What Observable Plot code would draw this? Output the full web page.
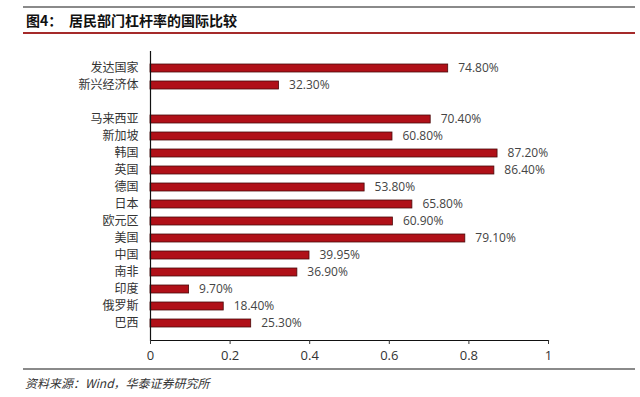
<!DOCTYPE html>
<html>
<head>
<meta charset="utf-8">
<script src="https://cdn.jsdelivr.net/npm/d3@7"></script>
<script src="https://cdn.jsdelivr.net/npm/@observablehq/plot@0.6"></script>
<style>
  html, body { margin: 0; padding: 0; background: #fff; }
  #wrap { position: relative; width: 640px; height: 397px; overflow: hidden; font-family: "Noto Sans CJK SC", "Noto Sans", sans-serif; }
  .hline { position: absolute; left: 23px; width: 612px; }
  .title { position: absolute; top: 11px; font-size: 14px; font-weight: bold; color: #111; white-space: pre; line-height: 18px; }
  #caption { position: absolute; left: 25px; top: 374px; font-size: 12px; font-style: italic; color: #333; line-height: 17px; white-space: pre; }
  #chart { position: absolute; left: 0; top: 0; }
</style>
</head>
<body>
<div id="wrap">
  <div class="hline" style="top:6px;height:2px;background:#8a8a8a"></div>
  <div class="title" style="left:26px">图4：</div>
  <div class="title" style="left:69px">居民部门杠杆率的国际比较</div>
  <div class="hline" style="top:32px;height:2px;background:#a52a2a"></div>
  <div id="chart"></div>
  <div class="hline" style="top:368px;height:2px;background:#8a8a8a"></div>
  <div id="caption">资料来源：Wind，华泰证券研究所</div>
</div>
<script>
const categories = ["发达国家", "新兴经济体", " ", "马来西亚", "新加坡", "韩国", "英国", "德国", "日本", "欧元区", "美国", "中国", "南非", "印度", "俄罗斯", "巴西"];
const values = [0.748, 0.323, null, 0.704, 0.608, 0.872, 0.864, 0.538, 0.658, 0.609, 0.791, 0.3995, 0.369, 0.097, 0.184, 0.253];
const xTicks = [0, 0.2, 0.4, 0.6, 0.8, 1];
const xTickLabels = ["0", "0.2", "0.4", "0.6", "0.8", "1"];

const data = categories.map((c, i) => ({name: c, value: values[i]})).filter(d => d.value != null);

const chart = Plot.plot({
  width: 640,
  height: 397,
  marginLeft: 150,
  marginRight: 92,
  marginTop: 51,
  marginBottom: 57,
  style: {fontFamily: "'Noto Sans CJK SC', 'Noto Sans', sans-serif", background: "transparent"},
  x: {domain: [0, 1]},
  y: {domain: categories, paddingInner: 0.55, paddingOuter: 0.4},
  marks: [
    Plot.barX(data, {x: "value", y: "name", fill: "#b01018", stroke: "#4a0a0a", strokeWidth: 0.8}),
    Plot.text(data, {x: "value", y: "name", text: d => (d.value * 100).toFixed(2) + "%", textAnchor: "start", dx: 10, fontSize: 12, fill: "#444", fontFamily: "'Open Sans', sans-serif"}),
    Plot.ruleX([0], {stroke: "#111", strokeWidth: 1.2}),
    Plot.frame({anchor: "bottom", stroke: "#111", strokeWidth: 1.2}),
    Plot.axisX({ticks: xTicks, tickFormat: (d, i) => xTickLabels[i], tickSize: 4, tickPadding: 6, fontSize: 13, color: "#333", label: null, fontFamily: "'Open Sans', sans-serif"}),
    Plot.axisY({tickSize: 0, tickPadding: 12, fontSize: 12, color: "#333", label: null})
  ]
});
document.getElementById("chart").appendChild(chart);
</script>
</body>
</html>
